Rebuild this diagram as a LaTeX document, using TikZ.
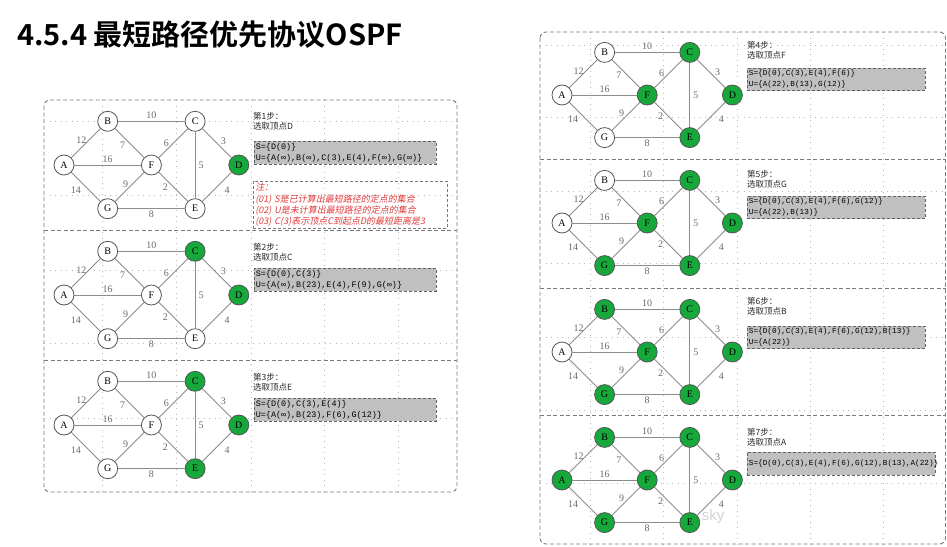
\documentclass[tikz,border=0pt]{standalone}
\usepackage{fontspec}
\usepackage{xcolor}
\usepackage{tikz}
\usetikzlibrary{positioning}
\setmainfont{Liberation Serif}
\setmonofont{Liberation Mono}
\setsansfont{Liberation Sans}
\newfontfamily\cjk{Noto Sans CJK SC}[BoldFont={Noto Sans CJK SC Bold}]
\newfontfamily\cjkit{Noto Sans CJK SC}[FakeSlant=0.2]
\definecolor{cGreen}{HTML}{17A83B}
\definecolor{cEdge}{HTML}{8C8C8C}
\definecolor{cLabel}{HTML}{6A6A6A}
\definecolor{cShade}{HTML}{C0C0C0}
\definecolor{cDash}{HTML}{7A7A7A}
\definecolor{cNote}{HTML}{E0393B}
\definecolor{cRing}{HTML}{555555}

\begin{document}
\begin{tikzpicture}[
  x=1pt,y=-1pt,
  vtx/.style={circle,draw=cRing,line width=0.8pt,minimum size=20pt,inner sep=0pt,
              font=\fontsize{10}{10}\selectfont},
  ed/.style={draw=cEdge,line width=0.9pt},
  wl/.style={font=\fontsize{10}{10}\selectfont,text=cLabel,inner sep=1pt},
  pnl/.style={draw=cDash,dash pattern=on 4pt off 2.5pt,line width=0.9pt,rounded corners=6pt},
  sep/.style={draw=cDash,dash pattern=on 4pt off 2.5pt,line width=0.9pt},
  grd/.style={draw=gray!55,dash pattern=on 1pt off 4.5pt,line width=0.8pt},
  stp/.style={anchor=north west,align=left,inner sep=0pt,text=black!85,
              font=\cjk\fontsize{8.5}{10.5}\selectfont},
  setL/.style={anchor=north west,align=left,draw=cDash!80!black,dash pattern=on 3pt off 2pt,
               fill=cShade,line width=0.8pt,inner xsep=1.5pt,inner ysep=2pt,text width=179pt,
               font=\ttfamily\fontsize{8.4}{11}\selectfont},
  setR/.style={setL,text width=175pt,font=\ttfamily\fontsize{7.7}{11}\selectfont},
  nota/.style={anchor=north west,align=left,draw=cDash,dash pattern=on 3pt off 2pt,
               line width=0.8pt,text width=190pt,inner sep=2pt,text=cNote,
               font=\cjkit\fontsize{9}{11.2}\selectfont},
  ttl/.style={anchor=west,inner sep=0pt,font=\cjk\bfseries\fontsize{29}{31}\selectfont}
]
\useasboundingbox (0,0) rectangle (947,546);

% ---- grade pontilhada
\foreach \gx in {102,176,251,324,398} \draw[grd] (\gx,100) -- (\gx,492);
\foreach \gy in {121,195,270,343,418} \draw[grd] (44,\gy) -- (457,\gy);
\foreach \gx in {590,663,737,810,883} \draw[grd] (\gx,32) -- (\gx,544);
\foreach \gy in {45,117,191,263,337,410,483} \draw[grd] (540,\gy) -- (945,\gy);

% ---- molduras
\draw[pnl] (44,100) rectangle (457,492);
\draw[sep] (44,230) -- (457,230);
\draw[sep] (44,360) -- (457,360);
\draw[pnl] (540,32) rectangle (945.5,544);
\draw[sep] (540,159) -- (945.5,159);
\draw[sep] (540,288) -- (945.5,288);
\draw[sep] (540,415) -- (945.5,415);

% ---- titulo
\node[ttl] (ttl) at (17,35) {4.5.4 最短路径优先协议OSPF};

% ---- grafos (um por passo)
\foreach \s/\ox/\oy/\h/\fA/\fB/\fC/\fD/\fE/\fF/\fG in {
  1/64/165/43.7/white/white/white/cGreen/white/white/white,
  2/64/295/43.7/white/white/cGreen/cGreen/white/white/white,
  3/64/425/43.7/white/white/cGreen/cGreen/cGreen/white/white,
  4/562/95/42.6/white/white/cGreen/cGreen/cGreen/cGreen/white,
  5/562/223/42.6/white/white/cGreen/cGreen/cGreen/cGreen/cGreen,
  6/562/352/42.6/white/cGreen/cGreen/cGreen/cGreen/cGreen/cGreen,
  7/562/480/42.6/cGreen/cGreen/cGreen/cGreen/cGreen/cGreen/cGreen}{
  \node[vtx,fill=\fA] (A\s) at (\ox,\oy) {A};
  \node[vtx,fill=\fB] (B\s) at ({\ox+\h},{\oy-\h}) {B};
  \node[vtx,fill=\fF] (F\s) at ({\ox+2*\h},\oy) {F};
  \node[vtx,fill=\fC] (C\s) at ({\ox+3*\h},{\oy-\h}) {C};
  \node[vtx,fill=\fD] (D\s) at ({\ox+4*\h},\oy) {D};
  \node[vtx,fill=\fG] (G\s) at ({\ox+\h},{\oy+\h}) {G};
  \node[vtx,fill=\fE] (E\s) at ({\ox+3*\h},{\oy+\h}) {E};
  \draw[ed] (A\s) -- node[wl,pos=.6,left=1pt] {12} (B\s);
  \draw[ed] (A\s) -- node[wl,midway,above=1pt] {16} (F\s);
  \draw[ed] (A\s) -- node[wl,pos=.62,left=7pt] {14} (G\s);
  \draw[ed] (B\s) -- node[wl,midway,above=1pt] {10} (C\s);
  \draw[ed] (B\s) -- node[wl,pos=.57,left=5pt] {7} (F\s);
  \draw[ed] (F\s) -- node[wl,midway,left=3pt] {6} (C\s);
  \draw[ed] (C\s) -- node[wl,midway,right=2pt] {5} (E\s);
  \draw[ed] (C\s) -- node[wl,pos=.45,right=4pt] {3} (D\s);
  \draw[ed] (G\s) -- node[wl,pos=.6,left=3pt] {9} (F\s);
  \draw[ed] (F\s) -- node[wl,midway,left=4pt] {2} (E\s);
  \draw[ed] (E\s) -- node[wl,pos=.4,right=9pt] {4} (D\s);
  \draw[ed] (G\s) -- node[wl,midway,below=1pt] {8} (E\s);
}

% ---- passo 1
\node[stp] (t1) at (253,112) {第1步：\\选取顶点D};
\node[setL] (s1) at (254,141) {S=\{D(0)\}\\U=\{A(∞),B(∞),C(3),E(4),F(∞),G(∞)\}};
\node[nota] (n1) at (253,181) {注：\\(01) S是已计算出最短路径的定点的集合\\(02) U是未计算出最短路径的定点的集合\\(03) C(3)表示顶点C到起点D的最短距离是3};

% ---- passo 2
\node[stp] (t2) at (253,243) {第2步：\\选取顶点C};
\node[setL] (s2) at (254,268) {S=\{D(0),C(3)\}\\U=\{A(∞),B(23),E(4),F(9),G(∞)\}};

% ---- passo 3
\node[stp] (t3) at (253,373) {第3步：\\选取顶点E};
\node[setL] (s3) at (254,398) {S=\{D(0),C(3),E(4)\}\\U=\{A(∞),B(23),F(6),G(12)\}};

% ---- passo 4
\node[stp] (t4) at (747,41) {第4步：\\选取顶点F};
\node[setR] (s4) at (747,68) {S=\{D(0),C(3),E(4),F(6)\}\\U=\{A(22),B(13),G(12)\}};

% ---- passo 5
\node[stp] (t5) at (747,170) {第5步：\\选取顶点G};
\node[setR] (s5) at (747,196) {S=\{D(0),C(3),E(4),F(6),G(12)\}\\U=\{A(22),B(13)\}};

% ---- passo 6
\node[stp] (t6) at (747,297) {第6步：\\选取顶点B};
\node[setR] (s6) at (747,326) {S=\{D(0),C(3),E(4),F(6),G(12),B(13)\}\\U=\{A(22)\}};

% ---- passo 7
\node[stp] (t7) at (747,428) {第7步：\\选取顶点A};
\node[setR,text width=185pt,minimum height=23pt] (s7) at (747,452) {S=\{D(0),C(3),E(4),F(6),G(12),B(13),A(22)\}};

\node[font=\sffamily\fontsize{15}{15}\selectfont,text=gray!35,inner sep=0pt] (wm) at (713,517) {sky};
\end{tikzpicture}
\end{document}
